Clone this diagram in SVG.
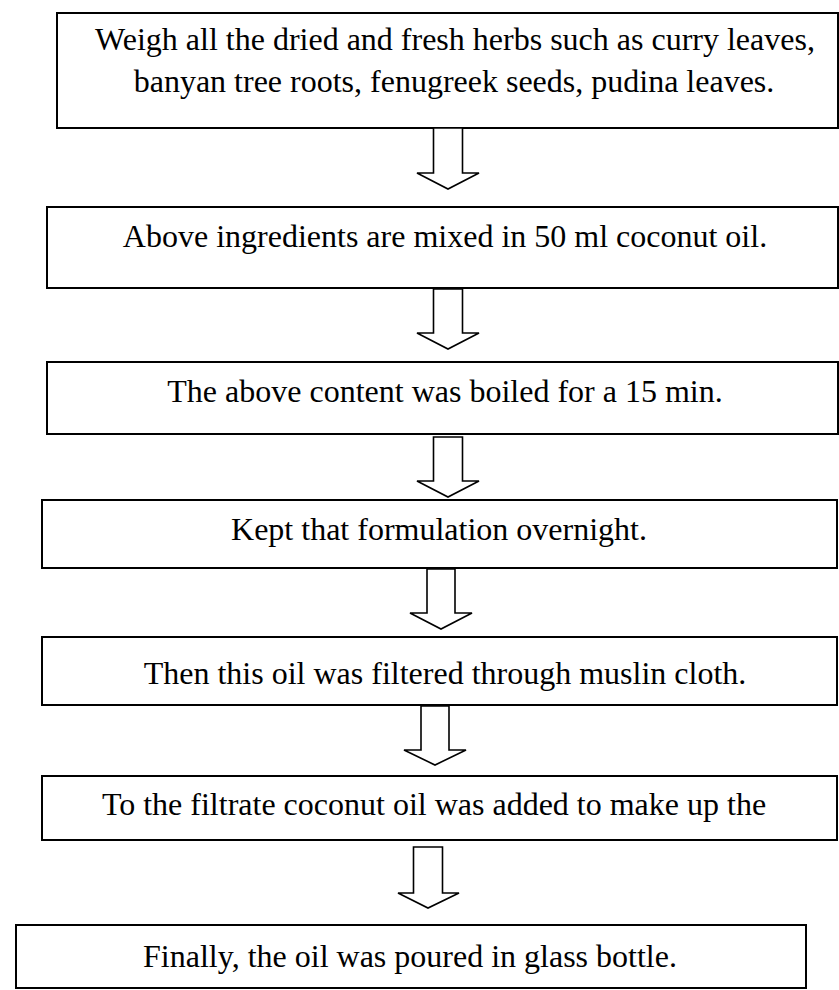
<svg xmlns="http://www.w3.org/2000/svg" width="839" height="990" viewBox="0 0 839 990">
<style>
.box{fill:#fff;stroke:#000;stroke-width:2}
.arr{fill:#fff;stroke:#000;stroke-width:1.6;stroke-linejoin:miter}
text{font-family:"Liberation Serif","Times New Roman",serif;font-size:32px;fill:#000;text-anchor:middle}
</style>
<rect width="839" height="990" fill="#fff"/>
<g id="step1"><rect class="box" x="57" y="13" width="781" height="115"/>
<text x="455" y="50">Weigh all the dried and fresh herbs such as curry leaves,</text>
<text x="454" y="92">banyan tree roots, fenugreek seeds, pudina leaves.</text></g>
<g id="step2"><rect class="box" x="47" y="207" width="791" height="81"/>
<text x="445" y="247">Above ingredients are mixed in 50 ml coconut oil.</text></g>
<g id="step3"><rect class="box" x="47" y="362" width="791" height="72"/>
<text x="445" y="402">The above content was boiled for a 15 min.</text></g>
<g id="step4"><rect class="box" x="42" y="500" width="795" height="68"/>
<text x="439" y="540">Kept that formulation overnight.</text></g>
<g id="step5"><rect class="box" x="42" y="637" width="795" height="68"/>
<text x="445" y="684">Then this oil was filtered through muslin cloth.</text></g>
<g id="step6"><rect class="box" x="42" y="776" width="795" height="64"/>
<text x="434" y="815">To the filtrate coconut oil was added to make up the</text></g>
<g id="step7"><rect class="box" x="16" y="925" width="790" height="63"/>
<text x="410" y="967">Finally, the oil was poured in glass bottle.</text></g>
<g id="connectors">
<path class="arr" d="M433.5,128 V173 H417 L448,189 L479,173 H462.5 V128 Z"/>
<path class="arr" d="M433.5,289 V333 H417 L448,349 L479,333 H462.5 V289 Z"/>
<path class="arr" d="M433.5,437 V481 H417 L448,497 L479,481 H462.5 V437 Z"/>
<path class="arr" d="M427,569 V613 H410 L441,629 L472,613 H455 V569 Z"/>
<path class="arr" d="M421,706 V750 H404 L435,765 L466,750 H449 V706 Z"/>
<path class="arr" d="M413.5,847 V893 H398 L428,908 L459,893 H442.5 V847 Z"/>
</g>
</svg>
